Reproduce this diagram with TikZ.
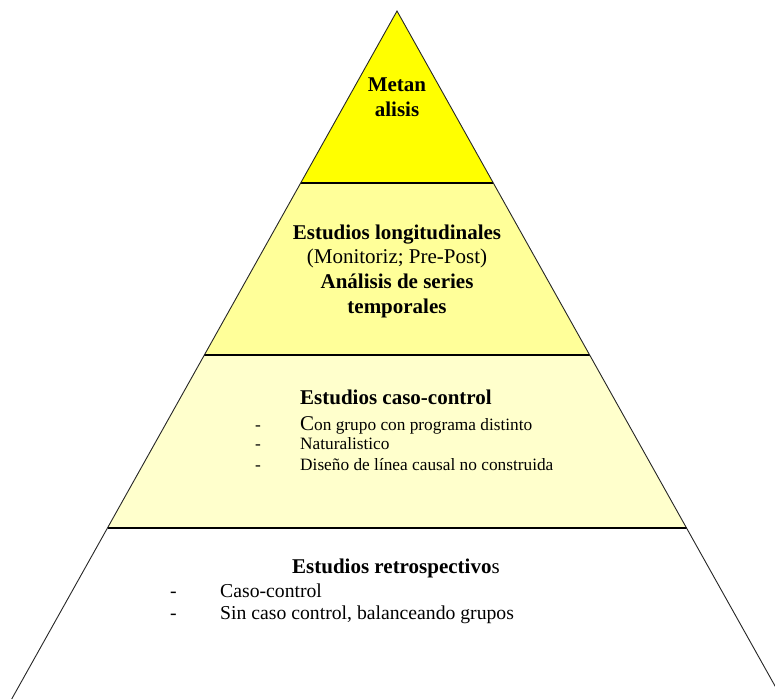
\documentclass[tikz,border=0pt]{standalone}
\usepackage{fontspec}
\setmainfont{Liberation Serif}
\definecolor{tierA}{HTML}{FFFF00}
\definecolor{tierB}{HTML}{FFFF99}
\definecolor{tierC}{HTML}{FFFFCC}
\begin{document}
\begin{tikzpicture}[x=1pt,y=-1pt,
  head/.style={inner sep=0pt,anchor=base,font=\fontsize{21}{24}\selectfont\bfseries},
  plain/.style={inner sep=0pt,anchor=base,font=\fontsize{21}{24}\selectfont},
  itemA/.style={inner sep=0pt,anchor=base west,font=\fontsize{17.3}{20}\selectfont},
  itemB/.style={inner sep=0pt,anchor=base west,font=\fontsize{19.7}{22}\selectfont},
  divider/.style={line width=2pt,black},
  edge/.style={line width=0.9pt,black!85}]
\useasboundingbox (0,0) rectangle (775,699);
\clip (0,0) rectangle (775,699);
\coordinate (apex) at (397,11);
\coordinate (l1) at (300.7,183); \coordinate (r1) at (493.3,183);
\coordinate (l2) at (204.4,355); \coordinate (r2) at (589.6,355);
\coordinate (l3) at (107.5,528); \coordinate (r3) at (686.5,528);
\coordinate (l4) at (11.7,699);  \coordinate (r4) at (782.3,699);
\fill[tierA] (apex) -- (r1) -- (l1) -- cycle;
\fill[tierB] (l1) -- (r1) -- (r2) -- (l2) -- cycle;
\fill[tierC] (l2) -- (r2) -- (r3) -- (l3) -- cycle;
\fill[white] (l3) -- (r3) -- (r4) -- (l4) -- cycle;
\draw[divider] (l1) -- (r1);
\draw[divider] (l2) -- (r2);
\draw[divider] (l3) -- (r3);
\draw[edge] (l4) -- (apex) -- (r4);
% tier 1
\node[head] (t1a) at (397,91) {Metan};
\node[head] (t1b) at (397,116) {alisis};
% tier 2
\node[head] (t2a) at (397,239) {Estudios longitudinales};
\node[plain] (t2b) at (397,263) {(Monitoriz; Pre-Post)};
\node[head] (t2c) at (397,288) {Análisis de series};
\node[head] (t2d) at (397,313) {temporales};
% tier 3
\node[head,anchor=base west] (t3a) at (300,404) {Estudios caso-control};
\node[itemA] (d3a) at (255,430) {-};
\node[itemA] (t3b) at (300,430) {{\fontsize{21}{24}\selectfont C}on grupo con programa distinto};
\node[itemA] (d3b) at (255,449) {-};
\node[itemA] (t3c) at (300,449) {Naturalistico};
\node[itemA] (d3c) at (255,470) {-};
\node[itemA] (t3d) at (300,470) {Diseño de línea causal no construida};
% tier 4
\node[head,anchor=base west] (t4a) at (292,573) {Estudios retrospectivo{\mdseries s}};
\node[itemB] (d4a) at (170,597) {-};
\node[itemB] (t4b) at (220,597) {Caso-control};
\node[itemB] (d4b) at (170,619) {-};
\node[itemB] (t4c) at (220,619) {Sin caso control, balanceando grupos};
\end{tikzpicture}
\end{document}
